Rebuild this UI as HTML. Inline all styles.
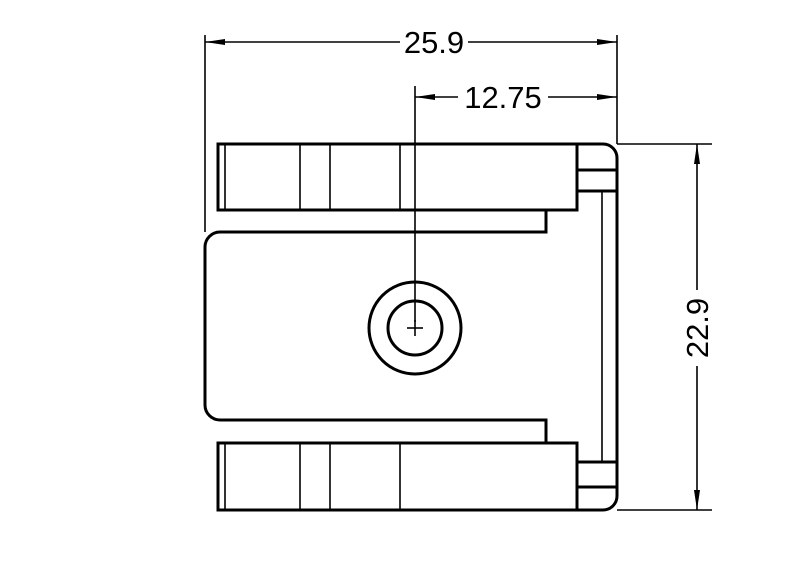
<!DOCTYPE html>
<html><head><style>html,body{margin:0;padding:0;background:#fff}</style></head><body>
<svg width="800" height="576" viewBox="0 0 800 576" xmlns="http://www.w3.org/2000/svg">
<defs><marker id="a" viewBox="0 0 20 6" refX="20" refY="3" markerWidth="20" markerHeight="6" orient="auto-start-reverse" markerUnits="userSpaceOnUse"><path d="M0,0 L20,3 L0,6 Z" fill="#000"/></marker></defs>
<g stroke="#000" fill="none">
<g stroke-width="1.6">
<line x1="205" y1="35" x2="205" y2="232"/>
<line x1="617" y1="35" x2="617" y2="144"/>
<line x1="415" y1="86" x2="415" y2="322"/>
<line x1="617" y1="144" x2="712" y2="144"/>
<line x1="617" y1="510" x2="712" y2="510"/>
<line x1="205" y1="42" x2="400" y2="42" marker-start="url(#a)"/>
<line x1="468" y1="42" x2="617" y2="42" marker-end="url(#a)"/>
<line x1="415" y1="97" x2="458" y2="97" marker-start="url(#a)"/>
<line x1="548" y1="97" x2="617" y2="97" marker-end="url(#a)"/>
<line x1="697" y1="144" x2="697" y2="290" marker-start="url(#a)"/>
<line x1="697" y1="366" x2="697" y2="510" marker-end="url(#a)"/>
<line x1="225" y1="144" x2="225" y2="210"/><line x1="300" y1="144" x2="300" y2="210"/><line x1="330" y1="144" x2="330" y2="210"/><line x1="400" y1="144" x2="400" y2="210"/>
<line x1="225" y1="443" x2="225" y2="510"/><line x1="300" y1="443" x2="300" y2="510"/><line x1="330" y1="443" x2="330" y2="510"/><line x1="400" y1="443" x2="400" y2="510"/>
<line x1="602" y1="191" x2="602" y2="462"/>
<line x1="407" y1="328" x2="423" y2="328"/><line x1="415" y1="320" x2="415" y2="336"/>
</g>
<g stroke-width="3">
<rect x="218" y="144" width="359" height="66"/>
<rect x="218" y="443" width="359" height="67"/>
<path d="M577,144 H603 A14,14 0 0 1 617,158 V496 A14,14 0 0 1 603,510 H577"/>
<line x1="577" y1="170" x2="617" y2="170"/><line x1="577" y1="191" x2="617" y2="191"/>
<line x1="577" y1="462" x2="617" y2="462"/><line x1="577" y1="487" x2="617" y2="487"/>
<path d="M546,210 V232 H220 A15,15 0 0 0 205,247 V405 A15,15 0 0 0 220,420 H546 V443"/>
<circle cx="415" cy="328" r="46"/>
<circle cx="415" cy="328" r="27"/>
</g>
</g>
<g font-family="Liberation Sans, sans-serif" font-size="31" fill="#000" text-anchor="middle">
<text x="434" y="53">25.9</text>
<text x="503" y="108">12.75</text>
<text transform="translate(708,328) rotate(-90)">22.9</text>
</g>
</svg>
</body></html>
